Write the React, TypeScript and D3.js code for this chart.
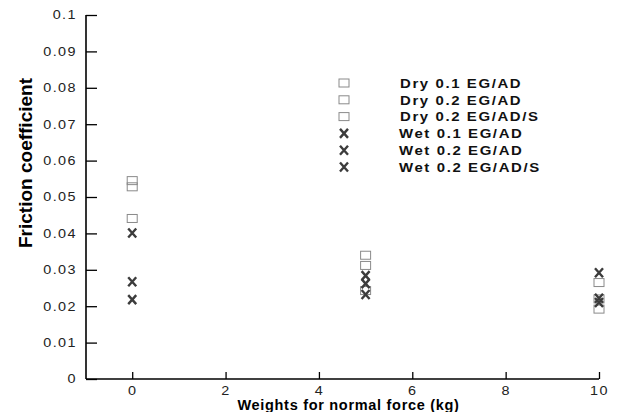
import React, { useEffect, useRef } from 'react';
import * as d3 from 'd3';

// series names, shared x positions and friction values
const seriesNames = [
  'Dry 0.1 EG/AD',
  'Dry 0.2 EG/AD',
  'Dry 0.2 EG/AD/S',
  'Wet 0.1 EG/AD',
  'Wet 0.2 EG/AD',
  'Wet 0.2 EG/AD/S',
];
const weights = [0, 5, 10];
const dry01 = [0.0545, 0.034, 0.0265];
const dry02 = [0.0528, 0.0312, 0.022];
const dry02s = [0.0441, 0.0243, 0.0192];
const wet01 = [0.0401, 0.0284, 0.0292];
const wet02 = [0.0267, 0.0262, 0.0222];
const wet02s = [0.0218, 0.0232, 0.021];
const seriesValues = [dry01, dry02, dry02s, wet01, wet02, wet02s];
const yTicks = [0, 0.01, 0.02, 0.03, 0.04, 0.05, 0.06, 0.07, 0.08, 0.09, 0.1];
const xTicks = [0, 2, 4, 6, 8, 10];

const App = () => {
  const svgRef = useRef(null);

  useEffect(() => {
    const width = 619;
    const height = 412;
    const left = 86, right = 599, top = 15, bottom = 379;

    const svg = d3.select(svgRef.current);
    svg.selectAll('*').remove();
    svg.attr('width', width).attr('height', height);

    const x = d3.scaleLinear().domain([-0.99, 10]).range([left, right]);
    const y = d3.scaleLinear().domain([0, 0.1]).range([bottom, top]);

    const axisFont = 'Liberation Sans, Arial, sans-serif';

    // axes: ticks point inward
    const yAxis = svg.append('g')
      .attr('transform', `translate(${left},0)`)
      .call(d3.axisLeft(y).tickValues(yTicks).tickSize(-11)
        .tickFormat(d => String(+(+d).toFixed(2))));
    const xAxis = svg.append('g')
      .attr('transform', `translate(0,${bottom})`)
      .call(d3.axisBottom(x).tickValues(xTicks).tickSize(-7).tickPadding(7));

    [yAxis, xAxis].forEach(g => {
      g.select('.domain').attr('stroke', '#000').attr('stroke-width', 1.6);
      g.selectAll('.tick line').attr('stroke', '#000').attr('stroke-width', 1.3);
      g.selectAll('.tick text')
        .attr('font-family', axisFont)
        .attr('font-size', 12)
        .attr('letter-spacing', 1.2)
        .attr('fill', '#222');
    });
    // wide-looking tick labels like the original export
    yAxis.selectAll('.tick text')
      .attr('x', 0)
      .attr('transform', 'translate(-9,0) scale(1.2,1)');
    xAxis.selectAll('.tick text')
      .attr('transform', 'scale(1.2,1)');
    // x axis line stops at the last tick
    xAxis.select('.domain').attr('d', `M${left},0H${right}`);
    yAxis.select('.domain').attr('d', `M0,${top}V${bottom}`);

    svg.append('text')
      .attr('x', (left + right) / 2 + 6)
      .attr('y', 410)
      .attr('text-anchor', 'middle')
      .attr('font-family', axisFont)
      .attr('font-weight', 'bold')
      .attr('font-size', 14.5)
      .attr('letter-spacing', 0.7)
      .text('Weights for normal force (kg)');

    svg.append('text')
      .attr('transform', 'translate(32,163) rotate(-90)')
      .attr('text-anchor', 'middle')
      .attr('font-family', 'Liberation Sans Narrow, Arial Narrow, sans-serif')
      .attr('font-weight', 'bold')
      .attr('font-size', 19)
      .text('Friction coefficient');

    const drawSquare = (g, cx, cy) => g.append('rect')
      .attr('x', cx - 5).attr('y', cy - 4)
      .attr('width', 10).attr('height', 8)
      .attr('fill', 'none')
      .attr('stroke', '#8a8a8a')
      .attr('stroke-width', 1);

    const drawCross = (g, cx, cy) => g.append('path')
      .attr('d', `M${cx - 4},${cy - 4.5}L${cx + 4},${cy + 4.5}M${cx + 4},${cy - 4.5}L${cx - 4},${cy + 4.5}`)
      .attr('fill', 'none')
      .attr('stroke', '#3c3c3c')
      .attr('stroke-width', 2.4);

    const marks = svg.append('g');
    seriesValues.forEach((vals, i) => {
      vals.forEach((v, j) => {
        if (i < 3) drawSquare(marks, x(weights[j]), y(v));
        else drawCross(marks, x(weights[j]), y(v));
      });
    });

    // legend
    const legend = svg.append('g');
    seriesNames.forEach((name, i) => {
      const ly = 83 + i * 16.8;
      if (i < 3) drawSquare(legend, 344, ly);
      else drawCross(legend, 344, ly);
      legend.append('text')
        .attr('transform', `translate(${i < 3 ? 400 : 399},${ly + 4.7}) scale(1.15,1)`)
        .attr('font-family', axisFont)
        .attr('font-weight', 'bold')
        .attr('font-size', 13)
        .attr('letter-spacing', 1.4)
        .attr('fill', '#111')
        .text(name);
    });
  }, []);

  return (
    <div style={{ position: 'absolute', left: 0, top: 0, background: '#fff' }}>
      <svg ref={svgRef}></svg>
    </div>
  );
};

export default App;
